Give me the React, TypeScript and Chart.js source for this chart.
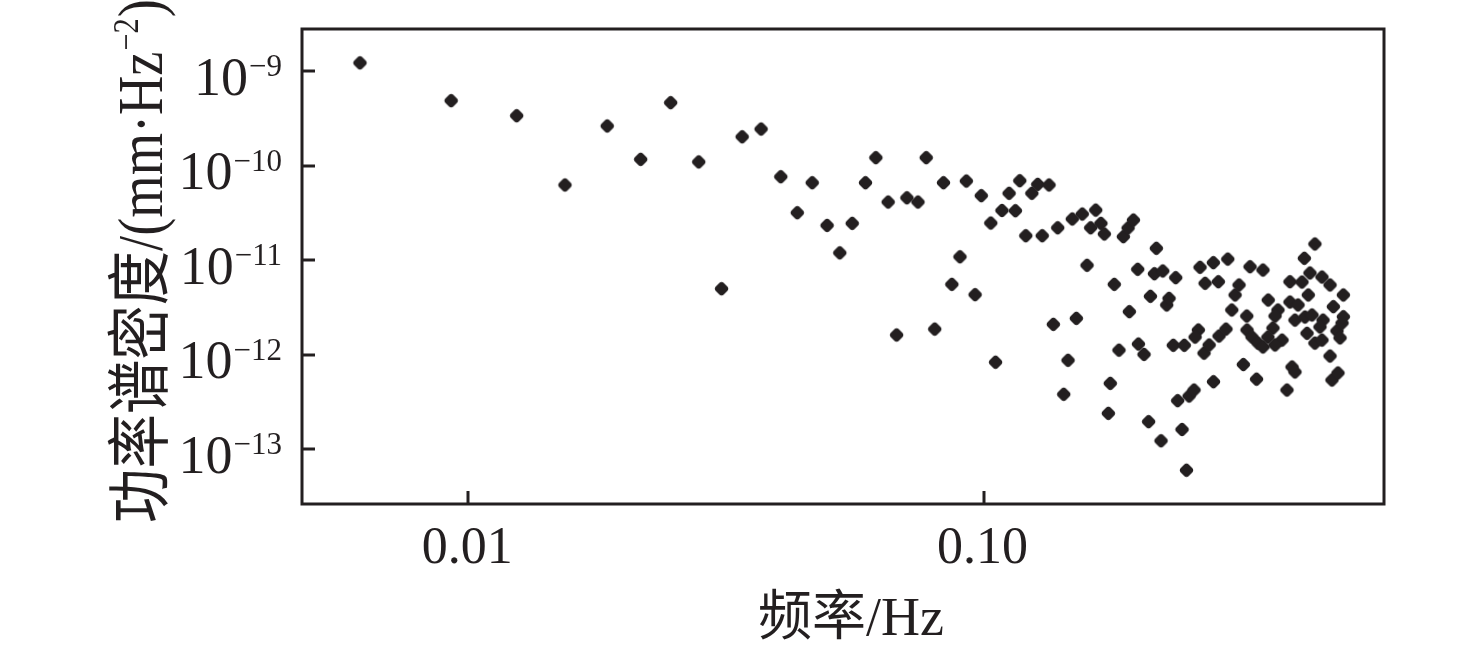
import { useEffect, useRef } from 'react';
import { Chart, registerables } from 'chart.js';

Chart.register(...registerables);

// Frequency (Hz)
const freq: number[] = [
  0.00616, 0.00926, 0.01241, 0.0154, 0.0186, 0.0216, 0.0247, 0.028, 0.031, 0.034,
  0.037, 0.0404, 0.0435, 0.0465, 0.0497, 0.0526, 0.0556, 0.059, 0.0618, 0.0653,
  0.0678, 0.071, 0.0746, 0.0774, 0.0804, 0.0836, 0.0868, 0.09, 0.0926, 0.0963,
  0.099, 0.1033, 0.1055, 0.1086, 0.1121, 0.1153, 0.1176, 0.1208, 0.1241, 0.1274,
  0.13, 0.134, 0.1366, 0.1393, 0.1431, 0.1459, 0.1487, 0.1514, 0.1555, 0.1588,
  0.1614, 0.1651, 0.169, 0.1716, 0.1747, 0.1762, 0.1794, 0.1832, 0.1868, 0.1908,
  0.1954, 0.1919, 0.1992, 0.1998, 0.2049, 0.2091, 0.2108, 0.2146, 0.2165, 0.2211,
  0.2228, 0.2268, 0.2291, 0.2335, 0.2361, 0.2381, 0.2428, 0.2453, 0.2477, 0.2506,
  0.2562, 0.2612, 0.2574, 0.2632, 0.2692, 0.2679, 0.2741, 0.2793, 0.2795, 0.2856,
  0.2865, 0.2955, 0.2979, 0.3033, 0.3078, 0.3133, 0.3194, 0.3243, 0.3247, 0.332,
  0.341, 0.3487, 0.3291, 0.3487, 0.3388, 0.357, 0.3646, 0.3565, 0.3729, 0.368,
  0.3797, 0.368, 0.3882, 0.3934, 0.3934, 0.4078, 0.397, 0.4023, 0.4023, 0.4207,
  0.4341, 0.4151, 0.4302, 0.4195, 0.4246, 0.427, 0.4398, 0.4398, 0.4539, 0.456,
  0.4499, 0.4539, 0.4706, 0.4706, 0.4775, 0.4854, 0.4964, 0.492, 0.4994, 0.4994,
  0.4746, 0.4875,
];

// Power spectral density (mm·Hz^-2)
const psd: number[] = [
  1.23e-9, 4.89e-10, 3.39e-10, 6.27e-11, 2.64e-10, 1.17e-10, 4.66e-10, 1.1e-10, 5.0e-12, 2.03e-10,
  2.45e-10, 7.67e-11, 3.19e-11, 6.62e-11, 2.34e-11, 1.2e-11, 2.46e-11, 6.62e-11, 1.22e-10, 4.14e-11,
  1.62e-12, 4.59e-11, 4.14e-11, 1.22e-10, 1.87e-12, 6.62e-11, 5.57e-12, 1.09e-11, 6.9e-11, 4.33e-12,
  4.83e-11, 2.48e-11, 8.34e-13, 3.37e-11, 5.12e-11, 3.35e-11, 6.95e-11, 1.82e-11, 5.12e-11, 6.37e-11,
  1.82e-11, 6.27e-11, 2.1e-12, 2.21e-11, 3.82e-13, 8.75e-13, 2.74e-11, 2.43e-12, 3.09e-11, 8.86e-12,
  2.21e-11, 3.4e-11, 2.46e-11, 1.9e-11, 2.4e-13, 4.99e-13, 5.57e-12, 1.12e-12, 1.78e-11, 2.2e-11,
  2.67e-11, 2.86e-12, 8.04e-12, 1.3e-12, 1.01e-12, 1.96e-13, 4.16e-12, 7.21e-12, 1.34e-11, 1.23e-13,
  7.71e-12, 3.37e-12, 3.96e-12, 1.26e-12, 6.55e-12, 3.27e-13, 1.62e-13, 1.26e-12, 6.0e-14, 3.66e-13,
  4.24e-13, 1.83e-12, 1.54e-12, 8.44e-12, 5.71e-12, 1.04e-12, 1.27e-12, 9.44e-12, 5.19e-13, 5.93e-12,
  1.58e-12, 1.87e-12, 1.03e-11, 2.98e-12, 4.3e-12, 5.48e-12, 7.89e-13, 2.57e-12, 1.83e-12, 1.54e-12,
  1.33e-12, 1.21e-12, 8.55e-12, 7.89e-12, 5.52e-13, 3.8e-12, 1.92e-12, 1.54e-12, 2.98e-12, 2.57e-12,
  1.43e-12, 1.27e-12, 4.24e-13, 5.93e-12, 3.62e-12, 3.37e-12, 7.43e-13, 6.58e-13, 2.33e-12, 2.51e-12,
  2.64e-12, 5.89e-12, 7.34e-12, 1.05e-11, 1.69e-12, 4.3e-12, 1.49e-11, 1.33e-12, 1.43e-12, 2.33e-12,
  1.97e-12, 6.65e-12, 5.48e-12, 9.71e-13, 3.23e-12, 1.79e-12, 2.17e-12, 1.51e-12, 4.3e-12, 2.53e-12,
  5.41e-13, 6.42e-13,
];

const xTickValues: number[] = [0.01, 0.1];
const xTickLabels: string[] = ['0.01', '0.10'];
const yTickValues: number[] = [1e-9, 1e-10, 1e-11, 1e-12, 1e-13];
const yTickExponents: string[] = ['\u22129', '\u221210', '\u221211', '\u221212', '\u221213'];
const xTitle = '频率/Hz';
const yTitleMain = '功率谱密度/(mm·Hz';
const yTitleSup = '\u22122';
const yTitleTail = ')';

const INK = '#231f20';
const SERIF = '"Liberation Serif", "Noto Sans CJK SC", serif';

function makeMarker(): HTMLCanvasElement {
  const c = document.createElement('canvas');
  c.width = 17;
  c.height = 17;
  const ctx = c.getContext('2d')!;
  ctx.fillStyle = INK;
  ctx.beginPath();
  ctx.arc(8.5, 8.5, 6.7, 0, Math.PI * 2);
  ctx.clip();
  ctx.beginPath();
  ctx.moveTo(8.5, 0.5);
  ctx.lineTo(16.5, 8.5);
  ctx.lineTo(8.5, 16.5);
  ctx.lineTo(0.5, 8.5);
  ctx.closePath();
  ctx.fill();
  return c;
}

const decorPlugin = {
  id: 'decor',
  afterDraw(chart: any) {
    const { ctx, chartArea } = chart;
    const xs = chart.scales.x;
    const ys = chart.scales.y;
    const { left, right, top, bottom } = chartArea;
    ctx.save();
    ctx.strokeStyle = INK;
    ctx.fillStyle = INK;
    ctx.lineWidth = 3;
    ctx.strokeRect(left, top, right - left, bottom - top);

    // inward ticks
    xTickValues.forEach((v) => {
      const px = Math.round(xs.getPixelForValue(v));
      ctx.beginPath();
      ctx.moveTo(px, bottom);
      ctx.lineTo(px, bottom - 13);
      ctx.stroke();
    });
    yTickValues.forEach((v) => {
      const py = Math.round(ys.getPixelForValue(v));
      ctx.beginPath();
      ctx.moveTo(left, py);
      ctx.lineTo(left + 13, py);
      ctx.stroke();
    });

    // x tick labels
    ctx.font = `52px ${SERIF}`;
    ctx.textAlign = 'center';
    ctx.textBaseline = 'alphabetic';
    xTickValues.forEach((v, i) => {
      const px = xs.getPixelForValue(v);
      ctx.fillText(xTickLabels[i], px - 1, 563);
    });

    // y tick labels: 10 with superscript exponent, right aligned
    ctx.textAlign = 'left';
    yTickValues.forEach((v, i) => {
      const py = ys.getPixelForValue(v);
      ctx.font = `54px ${SERIF}`;
      const wBase = ctx.measureText('10').width;
      ctx.font = `31px ${SERIF}`;
      const wSup = ctx.measureText(yTickExponents[i]).width;
      const xEnd = 281;
      const x0 = xEnd - wSup - wBase;
      const base = py + 23.5;
      ctx.font = `54px ${SERIF}`;
      ctx.fillText('10', x0, base);
      ctx.font = `31px ${SERIF}`;
      ctx.fillText(yTickExponents[i], x0 + wBase + 1, base - 18.5);
    });

    // x title
    ctx.font = `54px ${SERIF}`;
    ctx.textAlign = 'center';
    ctx.fillText(xTitle, 851, 635);

    // y title (rotated, slightly condensed)
    ctx.save();
    ctx.translate(162, 261);
    ctx.rotate(-Math.PI / 2);
    ctx.scale(0.85, 1);
    ctx.textAlign = 'left';
    ctx.font = `64px ${SERIF}`;
    const wMain = ctx.measureText(yTitleMain).width;
    const wTail = ctx.measureText(yTitleTail).width;
    ctx.font = `36px ${SERIF}`;
    const wS = ctx.measureText(yTitleSup).width;
    const total = wMain + wS + wTail + 2;
    let x = -total / 2;
    ctx.font = `64px ${SERIF}`;
    ctx.fillText(yTitleMain, x, 0);
    x += wMain + 1;
    ctx.font = `36px ${SERIF}`;
    ctx.fillText(yTitleSup, x, -24);
    x += wS + 1;
    ctx.font = `64px ${SERIF}`;
    ctx.fillText(yTitleTail, x, 0);
    ctx.restore();

    ctx.restore();
  },
};

export default function App() {
  const ref = useRef<HTMLCanvasElement | null>(null);

  useEffect(() => {
    if (!ref.current) return;
    const marker = makeMarker();
    const points = freq.map((f, i) => ({ x: f, y: psd[i] }));
    const chart = new Chart(ref.current, {
      type: 'scatter',
      data: {
        datasets: [
          {
            data: points,
            pointStyle: marker as any,
            pointRadius: 8,
            pointHoverRadius: 8,
            backgroundColor: INK,
            borderColor: INK,
            borderWidth: 0,
          },
        ],
      },
      options: {
        animation: false,
        responsive: false,
        maintainAspectRatio: false,
        layout: { padding: { top: 29, right: 92, left: 0, bottom: 0 } },
        plugins: {
          legend: { display: false },
          tooltip: { enabled: false },
        },
        scales: {
          x: {
            type: 'logarithmic',
            min: 0.004754,
            max: 0.5989,
            grid: { display: false },
            border: { display: false },
            ticks: { display: false },
            afterFit: (s: any) => {
              s.height = 146;
            },
          },
          y: {
            type: 'logarithmic',
            min: 2.636e-14,
            max: 2.805e-9,
            grid: { display: false },
            border: { display: false },
            ticks: { display: false },
            afterFit: (s: any) => {
              s.width = 302;
            },
          },
        },
      },
      plugins: [decorPlugin],
    });
    return () => chart.destroy();
  }, []);

  return (
    <div style={{ position: 'absolute', left: 0, top: 0, width: 1476, height: 650, background: '#fff' }}>
      <canvas ref={ref} width={1476} height={650} style={{ display: 'block', width: 1476, height: 650 }} />
    </div>
  );
}
